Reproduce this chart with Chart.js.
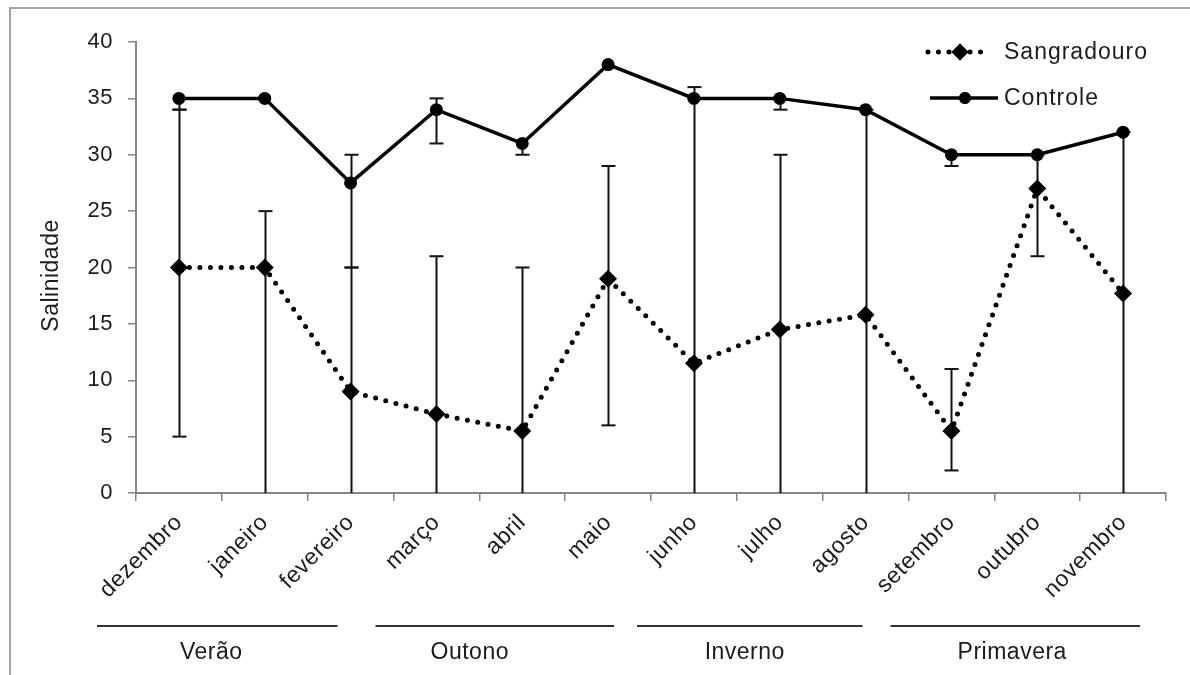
<!DOCTYPE html>
<html>
<head>
<meta charset="utf-8">
<script src="https://cdn.jsdelivr.net/npm/chart.js@4.4.1/dist/chart.umd.min.js"></script>
<style>
  html, body { margin: 0; padding: 0; background: #fff; }
  #wrap { width: 1190px; height: 675px; position: relative; }
</style>
</head>
<body>
<div id="wrap"><canvas id="c" width="1190" height="675"></canvas></div>
<script>
// Monthly salinity, December to November
const months = ['dezembro', 'janeiro', 'fevereiro', 'março', 'abril', 'maio',
                'junho', 'julho', 'agosto', 'setembro', 'outubro', 'novembro'];
const seasons = ['Verão', 'Outono', 'Inverno', 'Primavera'];
const monthsPerSeason = 3;

const sangradouro = [20, 20, 9, 7, 5.5, 19, 11.5, 14.5, 15.8, 5.5, 27, 17.7];
const controle    = [35, 35, 27.5, 34, 31, 38, 35, 35, 34, 30, 30, 32];

// Error bar ends (null = no bar on that side)
const sangradouroLow  = [5, 0, 0, 0, 0, 6, 0, 0, 0, 2, 21, 0];
const sangradouroHigh = [34, 25, 20, 21, 20, 29, 35, 30, 34, 11, 30, 32];
const controleLow     = [34, null, 20, 31, 30, null, null, 34, null, 29, null, null];
const controleHigh    = [null, null, 30, 35, null, null, 36, null, null, null, null, null];

const yMin = 0, yMax = 40, yStep = 5;

// ---- styling ----
const FONT = "'Liberation Sans', Arial, sans-serif";
const INK = '#1c1c1c';
const AXIS = '#858585';

// season underline extents relative to season boundaries, and label shift (px)
const seasonLineAdjust = [[-39, -56], [-18, -37], [-14, -46], [-18, -26]];
const seasonLabelShift = [-6, -25, -5, -3];

const errorBars = {
  id: 'errorBars',
  beforeDatasetsDraw(chart) {
    const { ctx, scales: { x, y } } = chart;
    const sets = [[sangradouroLow, sangradouroHigh], [controleLow, controleHigh]];
    ctx.save();
    ctx.strokeStyle = '#111';
    ctx.lineWidth = 2;
    ctx.lineCap = 'butt';
    const cap = 7;
    sets.forEach(([lo, hi], di) => {
      const vals = chart.data.datasets[di].data;
      vals.forEach((v, i) => {
        const px = Math.round(x.getPixelForValue(i)) + 0.5;
        const vy = y.getPixelForValue(v);
        [lo[i], hi[i]].forEach(end => {
          if (end === null || end === undefined) return;
          const ey = y.getPixelForValue(end);
          ctx.beginPath();
          ctx.moveTo(px, vy);
          ctx.lineTo(px, ey);
          ctx.stroke();
          if (end > yMin) {
            ctx.beginPath();
            ctx.moveTo(px - cap, ey);
            ctx.lineTo(px + cap, ey);
            ctx.stroke();
          }
        });
      });
    });
    ctx.restore();
  }
};

const frameAndText = {
  id: 'frameAndText',
  beforeDraw(chart) {
    const { ctx, width, height } = chart;
    ctx.save();
    ctx.fillStyle = '#fff';
    ctx.fillRect(0, 0, width, height);
    ctx.strokeStyle = '#a3a3a3';
    ctx.lineWidth = 2;
    ctx.beginPath();
    ctx.moveTo(10, height);
    ctx.lineTo(10, 8);
    ctx.lineTo(width, 8);
    ctx.stroke();
    ctx.restore();
    ctx.letterSpacing = '0.5px';
  },
  afterDraw(chart) {
    const { ctx, scales: { x, y }, chartArea } = chart;
    ctx.save();
    ctx.letterSpacing = '0.5px';
    ctx.fillStyle = INK;

    // y axis title
    ctx.save();
    ctx.translate(52, (chartArea.top + chartArea.bottom) / 2 + 8);
    ctx.rotate(-Math.PI / 2);
    ctx.font = `23px ${FONT}`;
    ctx.textAlign = 'center';
    ctx.textBaseline = 'middle';
    ctx.fillText('Salinidade', 0, 0);
    ctx.restore();

    // seasons under the month labels
    const step = x.getPixelForValue(1) - x.getPixelForValue(0);
    ctx.font = `23px ${FONT}`;
    ctx.textAlign = 'center';
    ctx.textBaseline = 'middle';
    seasons.forEach((s, k) => {
      const first = k * monthsPerSeason, last = first + monthsPerSeason - 1;
      const x0 = x.getPixelForValue(first) - step / 2 + seasonLineAdjust[k][0];
      const x1 = x.getPixelForValue(last) + step / 2 + seasonLineAdjust[k][1];
      ctx.strokeStyle = '#333';
      ctx.lineWidth = 2;
      ctx.beginPath();
      ctx.moveTo(x0, 626);
      ctx.lineTo(x1, 626);
      ctx.stroke();
      ctx.fillText(s, (x0 + x1) / 2 + seasonLabelShift[k], 653);
    });

    // legend
    const rows = [
      { ds: chart.data.datasets[0], y: 52, x0: 928, x1: 988, mx: 960 },
      { ds: chart.data.datasets[1], y: 98, x0: 930, x1: 998, mx: 965 }
    ];
    rows.forEach(r => {
      ctx.save();
      ctx.strokeStyle = r.ds.borderColor;
      ctx.lineWidth = r.ds.borderWidth;
      ctx.lineCap = r.ds.borderCapStyle || 'butt';
      ctx.setLineDash(r.ds.borderDash || []);
      ctx.beginPath();
      ctx.moveTo(r.x0, r.y);
      ctx.lineTo(r.x1, r.y);
      ctx.stroke();
      ctx.restore();
      Chart.helpers.drawPoint(ctx, {
        pointStyle: r.ds.pointStyle,
        radius: r.ds.pointRadius - 0.5,
        borderWidth: 0,
        rotation: 0
      }, r.mx, r.y);
      ctx.fillStyle = '#000';
      ctx.fill();
      ctx.fillStyle = INK;
      ctx.font = `23px ${FONT}`;
      ctx.letterSpacing = '1px';
      ctx.textAlign = 'left';
      ctx.textBaseline = 'middle';
      ctx.fillText(r.ds.label, 1004, r.y + 1);
    });
    ctx.restore();
    ctx.letterSpacing = '0px';
  }
};

new Chart(document.getElementById('c'), {
  type: 'line',
  data: {
    labels: months,
    datasets: [
      {
        label: 'Sangradouro',
        data: sangradouro,
        borderColor: '#000',
        backgroundColor: '#000',
        borderWidth: 5,
        borderDash: [0, 10.5],
        borderCapStyle: 'round',
        pointStyle: 'rectRot',
        pointRadius: 9,
        pointBorderWidth: 0,
        pointBackgroundColor: '#000',
        tension: 0,
        fill: false
      },
      {
        label: 'Controle',
        data: controle,
        borderColor: '#000',
        backgroundColor: '#000',
        borderWidth: 3.5,
        pointStyle: 'circle',
        pointRadius: 6.5,
        pointBorderWidth: 0,
        pointBackgroundColor: '#000',
        tension: 0,
        fill: false
      }
    ]
  },
  options: {
    responsive: false,
    animation: false,
    devicePixelRatio: 1,
    layout: { padding: { left: 0, top: 42, right: 24, bottom: 0 } },
    plugins: {
      legend: { display: false },
      tooltip: { enabled: false }
    },
    scales: {
      x: {
        type: 'category',
        offset: true,
        grid: {
          display: true, drawOnChartArea: false, drawTicks: true,
          tickLength: 8, offset: true, color: AXIS, lineWidth: 1.5
        },
        border: { display: true, color: AXIS, width: 2 },
        ticks: {
          autoSkip: false, maxRotation: 45, minRotation: 45,
          font: { family: FONT, size: 23 }, color: INK, padding: 8
        },
        afterFit(scale) { scale.height = 182; }
      },
      y: {
        min: yMin, max: yMax,
        grid: {
          display: true, drawOnChartArea: false, drawTicks: true,
          tickLength: 8, color: AXIS, lineWidth: 1.5
        },
        border: { display: true, color: AXIS, width: 2 },
        ticks: {
          stepSize: yStep,
          font: { family: FONT, size: 22 }, color: INK, padding: 15
        },
        afterFit(scale) { scale.width = 136; }
      }
    }
  },
  plugins: [frameAndText, errorBars]
});
</script>
</body>
</html>
